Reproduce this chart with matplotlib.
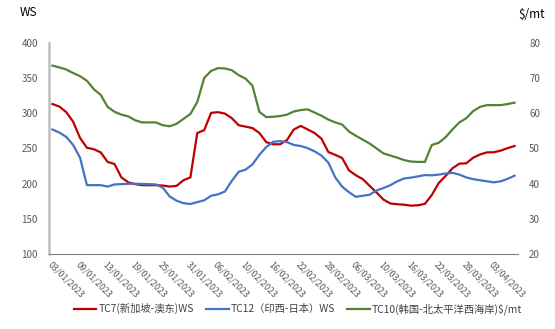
import matplotlib
matplotlib.use("Agg")
import matplotlib.pyplot as plt
import pandas as pd

plt.rcParams['font.family'] = ['Noto Sans CJK SC', 'DejaVu Sans']

# Trading days, 03/01/2023 - 06/04/2023
dates = pd.bdate_range('2023-01-03', '2023-04-06')
date_labels = [d.strftime('%d/%m/%Y') for d in dates]

# TC7 Singapore - East Australia (WS, left axis)
tc7 = [313, 309.5, 301.5, 288, 265, 251, 249, 244.5, 231, 228,
       209, 202, 199.5, 198, 198, 198, 197.5, 196, 197, 205,
       209, 272, 276, 300.5, 301.5, 299.5, 293, 283, 281, 279,
       272, 259, 256, 256, 262, 277, 282, 277, 272, 264,
       245, 241, 236.5, 219, 212, 206.5, 197, 187.5, 177.5, 172,
       171, 170.3, 169, 169.5, 171.5, 184, 201, 211, 222, 228.5,
       229, 237, 241.5, 244.5, 244.7, 247, 250.5, 253.5]

# TC12 West India - Japan (WS, left axis)
tc12 = [277, 272.5, 266.5, 255, 237, 198, 198, 198, 196, 199,
        199.5, 200, 200, 199.7, 199.5, 199, 194.5, 182, 176, 172.5,
        171.3, 174, 176.5, 183, 185, 189, 204, 217, 220, 227.5,
        241, 252, 259.5, 260.5, 259, 255, 253.5, 250.5, 246, 240,
        230, 209, 196, 188, 181.5, 183, 184.5, 190.5, 194, 198,
        203.5, 207.5, 208.7, 210.5, 212.3, 212, 213, 214.5, 215.5, 213,
        209, 206.5, 205, 203.5, 202, 203.5, 207, 211.5]

# TC10 South Korea - North Pacific West Coast ($/mt, right axis)
tc10 = [73.5, 73.0, 72.4, 71.4, 70.5, 69.2, 66.8, 65.2, 61.8, 60.4,
        59.6, 59.1, 58.0, 57.4, 57.4, 57.4, 56.6, 56.3, 57.0, 58.4,
        59.8, 63.2, 70.0, 72.0, 72.8, 72.7, 72.2, 70.8, 69.8, 67.8,
        60.4, 58.9, 59.0, 59.2, 59.6, 60.5, 60.9, 61.1, 60.2, 59.3,
        58.2, 57.4, 56.8, 54.8, 53.6, 52.5, 51.4, 50.0, 48.6, 48.0,
        47.4, 46.7, 46.3, 46.2, 46.2, 51.0, 51.6, 53.2, 55.4, 57.4,
        58.6, 60.6, 61.8, 62.3, 62.3, 62.3, 62.6, 63.0]

labels = ['TC7(新加坡-澳东)WS', 'TC12（印西-日本）WS', 'TC10(韩国-北太平洋西海岸)$/mt']
colors = ['#C00000', '#4472C4', '#548235']

fig = plt.figure(figsize=(5.55, 3.29), dpi=100)
ax = fig.add_axes([49 / 555, 1 - 254.3 / 329, (518 - 49) / 555, (254.3 - 42.7) / 329])
ax2 = ax.twinx()

x = list(range(len(dates)))
l1, = ax.plot(x, tc7, color=colors[0], lw=1.6, label=labels[0])
l2, = ax.plot(x, tc12, color=colors[1], lw=1.6, label=labels[1])
l3, = ax2.plot(x, tc10, color=colors[2], lw=1.6, label=labels[2])

ax.set_xlim(-0.5, len(dates) - 0.5)
ax.set_ylim(100, 400)
ax.set_yticks(range(100, 401, 50))
ax2.set_ylim(20, 80)
ax2.set_yticks(range(20, 81, 10))

ax.set_xticks(x[::4])
ax.set_xticklabels(date_labels[::4], rotation=-45, ha='left', va='top',
                   rotation_mode='anchor', fontsize=6.4, color='#595959')
ax.tick_params(axis='x', length=0, pad=4)
ax.tick_params(axis='y', length=0, labelsize=7, labelcolor='#595959', pad=8)
ax2.tick_params(axis='y', length=0, labelsize=7, labelcolor='#595959', pad=8)

for a in (ax, ax2):
    for s in ('top', 'right'):
        a.spines[s].set_visible(False)
ax2.spines['left'].set_visible(False)
ax2.spines['bottom'].set_visible(False)
ax.spines['left'].set_color('#bfbfbf')
ax.spines['left'].set_linewidth(1.8)
ax.spines['bottom'].set_color('#808080')
ax.spines['bottom'].set_linewidth(0.8)

fig.text(20 / 555, 1 - 13 / 329, 'WS', fontsize=8.5, ha='left', va='center', color='black')
fig.text(518 / 555, 1 - 14 / 329, '$/mt', fontsize=8.5, ha='left', va='center', color='black')

fig.legend(handles=[l1, l2, l3], labels=labels, loc='center', ncol=3,
           bbox_to_anchor=(0.537, 1 - 309 / 329), frameon=False, fontsize=7.4,
           handlelength=2.2, handletextpad=0.2, columnspacing=1.2,
           labelcolor='#404040')

fig.savefig('out.png', dpi=100)
